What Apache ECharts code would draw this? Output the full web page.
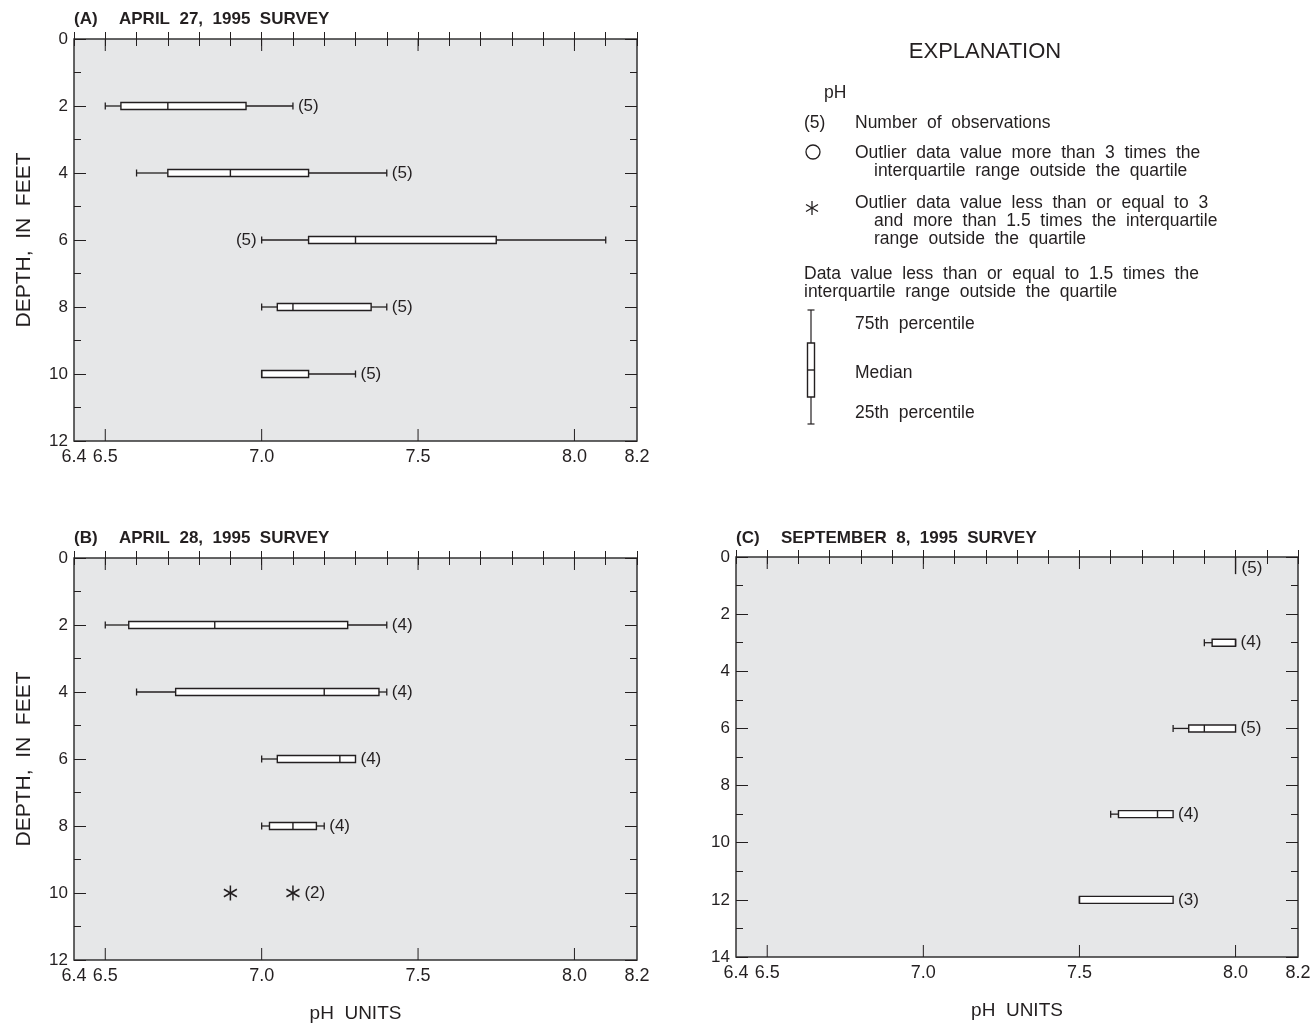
<!DOCTYPE html>
<html><head><meta charset="utf-8">
<script src="https://cdn.jsdelivr.net/npm/echarts@6/dist/echarts.min.js"></script>
<style>html,body{margin:0;padding:0;background:#fff}#chart{width:1314px;height:1027px}</style>
</head><body><div id="chart"></div>
<script>
const FONT = '"Liberation Sans", Arial, Helvetica, sans-serif';
const INK = '#231f20';
const PLOT_BG = '#e6e7e8';

// axis values
const phMin = 6.4, phMax = 8.2;
const phTickLabels = [6.4, 6.5, 7.0, 7.5, 8.0, 8.2];
const phMajorTicks = [6.5, 7.0, 7.5, 8.0];
const depthMaxAB = 12, depthMaxC = 14;

// (A) April 27, 1995
const aDepth = [2, 4, 6, 8, 10];
const aMin = [6.5, 6.6, 7.0, 7.0, 7.0];
const aQ1  = [6.55, 6.7, 7.15, 7.05, 7.0];
const aMed = [6.7, 6.9, 7.3, 7.1, 7.0];
const aQ3  = [6.95, 7.15, 7.75, 7.35, 7.15];
const aMax = [7.1, 7.4, 8.1, 7.4, 7.3];
const aN   = [5, 5, 5, 5, 5];
const aLabelSide = ['right', 'right', 'left', 'right', 'right'];

// (B) April 28, 1995
const bDepth = [2, 4, 6, 8];
const bMin = [6.5, 6.6, 7.0, 7.0];
const bQ1  = [6.575, 6.725, 7.05, 7.025];
const bMed = [6.85, 7.2, 7.25, 7.1];
const bQ3  = [7.275, 7.375, 7.3, 7.175];
const bMax = [7.4, 7.4, 7.3, 7.2];
const bN   = [4, 4, 4, 4];
const bLabelSide = ['right', 'right', 'right', 'right'];
const bOutlierDepth = [10, 10];
const bOutlierPh = [6.9, 7.1];
const bOutlierLabel = ['', '(2)'];

// (C) September 8, 1995
const cDepth = [3, 6, 9, 12];
const cMin = [7.9, 7.8, 7.6, 7.5];
const cQ1  = [7.925, 7.85, 7.625, 7.5];
const cMed = [8.0, 7.9, 7.75, 7.5];
const cQ3  = [8.0, 8.0, 7.8, 7.8];
const cMax = [8.0, 8.0, 7.8, 7.8];
const cN   = [4, 5, 4, 3];
const cLabelSide = ['right', 'right', 'right', 'right'];
const cSurfacePh = [8.0];
const cSurfaceTop = [0];
const cSurfaceBottom = [0.6];
const cSurfaceN = [5];

function rows(depth, mn, q1, md, q3, mx, n, side) {
  return depth.map((d, i) => [d, mn[i], q1[i], md[i], q3[i], mx[i], n[i], side[i] === 'left' ? 1 : 0]);
}

const grids = [
  { left: 74, top: 39, width: 563, height: 402 },
  { left: 74, top: 558, width: 563, height: 402 },
  { left: 736, top: 557, width: 562, height: 400 }
];

function xAxesFor(g, showName) {
  const base = { type: 'value', gridIndex: g, min: phMin, max: phMax, splitLine: { show: false }, axisLine: { show: false } };
  return [
    Object.assign({}, base, {
      position: 'bottom',
      axisTick: { show: false },
      axisLabel: { show: true, customValues: phTickLabels, formatter: v => Number(v).toFixed(1), margin: 7, fontSize: 18, color: INK, fontFamily: FONT },
      name: showName ? 'pH  UNITS' : '', nameLocation: 'middle', nameGap: 44,
      nameTextStyle: { fontSize: 19, color: INK, fontFamily: FONT }
    }),
    Object.assign({}, base, { position: 'bottom', interval: 0.1, axisTick: { show: true, inside: true, length: 7, lineStyle: { color: INK, width: 1 } }, axisLabel: { show: false } }),
    Object.assign({}, base, { position: 'top', interval: 0.1, axisTick: { show: true, inside: true, length: 7, lineStyle: { color: INK, width: 1 } }, axisLabel: { show: false } })
  ];
}

function yAxesFor(g, max, showName) {
  const base = {
    type: 'value', gridIndex: g, min: 0, max: max, interval: 2, inverse: true,
    splitLine: { show: false }, axisLine: { show: false },
    axisTick: { show: true, inside: true, length: 12, lineStyle: { color: INK, width: 1 } },
    minorTick: { show: true, splitNumber: 2, length: 7, lineStyle: { color: INK, width: 1 } }
  };
  return [
    Object.assign({}, base, {
      position: 'left',
      axisLabel: { show: true, margin: 6, fontSize: 17, color: INK, fontFamily: FONT },
      name: showName ? 'DEPTH,  IN  FEET' : '', nameLocation: 'middle', nameGap: 39, nameRotate: 90,
      nameTextStyle: { fontSize: 21, color: INK, fontFamily: FONT }
    }),
    Object.assign({}, base, { position: 'right', axisLabel: { show: false } })
  ];
}

const BOX_H = 3.5;
const LABEL_FONT = '17px ' + FONT;
function renderBox(params, api) {
  const depth = api.value(0), mn = api.value(1), q1 = api.value(2), md = api.value(3), q3 = api.value(4), mx = api.value(5);
  const n = api.value(6), side = api.value(7);
  const pMin = api.coord([mn, depth]), pQ1 = api.coord([q1, depth]), pMd = api.coord([md, depth]);
  const pQ3 = api.coord([q3, depth]), pMax = api.coord([mx, depth]);
  const y = pMin[1];
  const ls = { stroke: INK, lineWidth: 1.3, fill: null };
  const ch = [];
  if (mn < q1) {
    ch.push({ type: 'line', shape: { x1: pMin[0], y1: y, x2: pQ1[0], y2: y }, style: ls });
    ch.push({ type: 'line', shape: { x1: pMin[0], y1: y - BOX_H, x2: pMin[0], y2: y + BOX_H }, style: ls });
  }
  if (mx > q3) {
    ch.push({ type: 'line', shape: { x1: pQ3[0], y1: y, x2: pMax[0], y2: y }, style: ls });
    ch.push({ type: 'line', shape: { x1: pMax[0], y1: y - BOX_H, x2: pMax[0], y2: y + BOX_H }, style: ls });
  }
  ch.push({ type: 'rect', shape: { x: pQ1[0], y: y - BOX_H, width: pQ3[0] - pQ1[0], height: 2 * BOX_H }, style: { fill: '#fff', stroke: INK, lineWidth: 1.4 } });
  ch.push({ type: 'line', shape: { x1: pMd[0], y1: y - BOX_H, x2: pMd[0], y2: y + BOX_H }, style: { stroke: INK, lineWidth: 1.4 } });
  const lx = side === 1 ? pMin[0] - 5 : pMax[0] + 5;
  ch.push({ type: 'text', x: lx, y: y, style: { legacy: false, text: '(' + n + ')', fill: INK, font: LABEL_FONT, align: side === 1 ? 'right' : 'left', verticalAlign: 'middle' } });
  return { type: 'group', children: ch };
}

function renderAsterisk(params, api) {
  const p = api.coord([api.value(0), api.value(1)]);
  const lab = bOutlierLabel[params.dataIndex];
  const r = 7.5, dx = r * Math.cos(Math.PI / 6), dy = r * Math.sin(Math.PI / 6);
  const ls = { stroke: INK, lineWidth: 1.5 };
  const ch = [
    { type: 'line', shape: { x1: p[0], y1: p[1] - r, x2: p[0], y2: p[1] + r }, style: ls },
    { type: 'line', shape: { x1: p[0] - dx, y1: p[1] - dy, x2: p[0] + dx, y2: p[1] + dy }, style: ls },
    { type: 'line', shape: { x1: p[0] - dx, y1: p[1] + dy, x2: p[0] + dx, y2: p[1] - dy }, style: ls }
  ];
  if (lab) ch.push({ type: 'text', x: p[0] + r + 4, y: p[1], style: { legacy: false, text: lab, fill: INK, font: LABEL_FONT, align: 'left', verticalAlign: 'middle' } });
  return { type: 'group', children: ch };
}

function renderSurface(params, api) {
  const ph = api.value(0), d0 = api.value(1), d1 = api.value(2), n = api.value(3);
  const p0 = api.coord([ph, d0]), p1 = api.coord([ph, d1]);
  return { type: 'group', children: [
    { type: 'line', shape: { x1: p0[0], y1: p0[1], x2: p1[0], y2: p1[1] }, style: { stroke: INK, lineWidth: 1.4 } },
    { type: 'text', x: p0[0] + 6, y: (p0[1] + p1[1]) / 2 + 3, style: { legacy: false, text: '(' + n + ')', fill: INK, font: LABEL_FONT, align: 'left', verticalAlign: 'middle' } }
  ] };
}

// long ticks at the half-unit pH values, inward on top and bottom frame edges
function renderMajorTick(params, api) {
  const v = api.value(0), dMax = api.value(1);
  const top = api.coord([v, 0]), bot = api.coord([v, dMax]);
  const ls = { stroke: INK, lineWidth: 1 };
  return { type: 'group', children: [
    { type: 'line', shape: { x1: top[0], y1: top[1], x2: top[0], y2: top[1] + 12 }, style: ls },
    { type: 'line', shape: { x1: bot[0], y1: bot[1], x2: bot[0], y2: bot[1] - 12 }, style: ls }
  ] };
}

function txt(x, y, text, opt) {
  opt = opt || {};
  return { type: 'text', x: x, y: y, silent: true, rotation: opt.rotation || 0,
    style: { legacy: false, text: text, fill: INK, font: (opt.weight || 'normal') + ' ' + (opt.size || 16) + 'px ' + FONT,
      align: opt.align || 'left', verticalAlign: 'middle' } };
}

const LS = 17.5;
const legendEls = [
  txt(985, 52, 'EXPLANATION', { size: 22, align: 'center' }),
  txt(824, 93, 'pH', { size: LS }),
  txt(804, 123, '(5)', { size: LS }),
  txt(855, 123, 'Number  of  observations', { size: LS }),
  { type: 'circle', shape: { cx: 813, cy: 152, r: 7 }, style: { fill: 'none', stroke: INK, lineWidth: 1.3 } },
  txt(855, 153, 'Outlier  data  value  more  than  3  times  the', { size: LS }),
  txt(874, 171, 'interquartile  range  outside  the  quartile', { size: LS }),
  { type: 'line', shape: { x1: 812, y1: 201, x2: 812, y2: 215 }, style: { stroke: INK, lineWidth: 1.3 } },
  { type: 'line', shape: { x1: 806, y1: 204.5, x2: 818, y2: 211.5 }, style: { stroke: INK, lineWidth: 1.3 } },
  { type: 'line', shape: { x1: 806, y1: 211.5, x2: 818, y2: 204.5 }, style: { stroke: INK, lineWidth: 1.3 } },
  txt(855, 203, 'Outlier  data  value  less  than  or  equal  to  3', { size: LS }),
  txt(874, 221, 'and  more  than  1.5  times  the  interquartile', { size: LS }),
  txt(874, 239, 'range  outside  the  quartile', { size: LS }),
  txt(804, 274, 'Data  value  less  than  or  equal  to  1.5  times  the', { size: LS }),
  txt(804, 292, 'interquartile  range  outside  the  quartile', { size: LS }),
  { type: 'line', shape: { x1: 811, y1: 310, x2: 811, y2: 424 }, style: { stroke: INK, lineWidth: 1.2 } },
  { type: 'line', shape: { x1: 807.5, y1: 310, x2: 814.5, y2: 310 }, style: { stroke: INK, lineWidth: 1.2 } },
  { type: 'line', shape: { x1: 807.5, y1: 424, x2: 814.5, y2: 424 }, style: { stroke: INK, lineWidth: 1.2 } },
  { type: 'rect', shape: { x: 807.5, y: 343, width: 7, height: 54 }, style: { fill: '#fff', stroke: INK, lineWidth: 1.4 } },
  { type: 'line', shape: { x1: 807.5, y1: 370, x2: 814.5, y2: 370 }, style: { stroke: INK, lineWidth: 1.4 } },
  txt(855, 324, '75th  percentile', { size: LS }),
  txt(855, 373, 'Median', { size: LS }),
  txt(855, 413, '25th  percentile', { size: LS })
];

const TS = 17;
const titleEls = [
  txt(74, 19, '(A)', { size: TS, weight: 'bold' }),
  txt(119, 19, 'APRIL  27,  1995  SURVEY', { size: TS, weight: 'bold' }),
  txt(74, 538, '(B)', { size: TS, weight: 'bold' }),
  txt(119, 538, 'APRIL  28,  1995  SURVEY', { size: TS, weight: 'bold' }),
  txt(736, 538, '(C)', { size: TS, weight: 'bold' }),
  txt(781, 538, 'SEPTEMBER  8,  1995  SURVEY', { size: TS, weight: 'bold' })
];

const option = {
  animation: false,
  backgroundColor: '#fff',
  textStyle: { fontFamily: FONT },
  grid: grids.map(g => Object.assign({ show: true, backgroundColor: PLOT_BG, borderColor: '#333', borderWidth: 1.5 }, g)),
  xAxis: [].concat(xAxesFor(0, false), xAxesFor(1, true), xAxesFor(2, true)),
  yAxis: [].concat(yAxesFor(0, depthMaxAB, true), yAxesFor(1, depthMaxAB, true), yAxesFor(2, depthMaxC, false)),
  series: [
    { type: 'custom', xAxisIndex: 0, yAxisIndex: 0, silent: true, clip: false, renderItem: renderMajorTick,
      encode: { x: 0, y: 1 }, data: phMajorTicks.map(v => [v, depthMaxAB]) },
    { type: 'custom', xAxisIndex: 3, yAxisIndex: 2, silent: true, clip: false, renderItem: renderMajorTick,
      encode: { x: 0, y: 1 }, data: phMajorTicks.map(v => [v, depthMaxAB]) },
    { type: 'custom', xAxisIndex: 6, yAxisIndex: 4, silent: true, clip: false, renderItem: renderMajorTick,
      encode: { x: 0, y: 1 }, data: phMajorTicks.map(v => [v, depthMaxC]) },
    { type: 'custom', xAxisIndex: 0, yAxisIndex: 0, silent: true, clip: false, renderItem: renderBox,
      encode: { x: [1, 2, 3, 4, 5], y: 0 }, data: rows(aDepth, aMin, aQ1, aMed, aQ3, aMax, aN, aLabelSide) },
    { type: 'custom', xAxisIndex: 3, yAxisIndex: 2, silent: true, clip: false, renderItem: renderBox,
      encode: { x: [1, 2, 3, 4, 5], y: 0 }, data: rows(bDepth, bMin, bQ1, bMed, bQ3, bMax, bN, bLabelSide) },
    { type: 'custom', xAxisIndex: 3, yAxisIndex: 2, silent: true, clip: false, renderItem: renderAsterisk,
      encode: { x: 0, y: 1 }, data: bOutlierPh.map((v, i) => [v, bOutlierDepth[i]]) },
    { type: 'custom', xAxisIndex: 6, yAxisIndex: 4, silent: true, clip: false, renderItem: renderBox,
      encode: { x: [1, 2, 3, 4, 5], y: 0 }, data: rows(cDepth, cMin, cQ1, cMed, cQ3, cMax, cN, cLabelSide) },
    { type: 'custom', xAxisIndex: 6, yAxisIndex: 4, silent: true, clip: false, renderItem: renderSurface,
      encode: { x: 0, y: [1, 2] }, data: cSurfacePh.map((v, i) => [v, cSurfaceTop[i], cSurfaceBottom[i], cSurfaceN[i]]) }
  ],
  graphic: { elements: [].concat(titleEls, legendEls) }
};

const chart = echarts.init(document.getElementById('chart'), null, { renderer: 'canvas' });
chart.setOption(option);
</script>
</body></html>
